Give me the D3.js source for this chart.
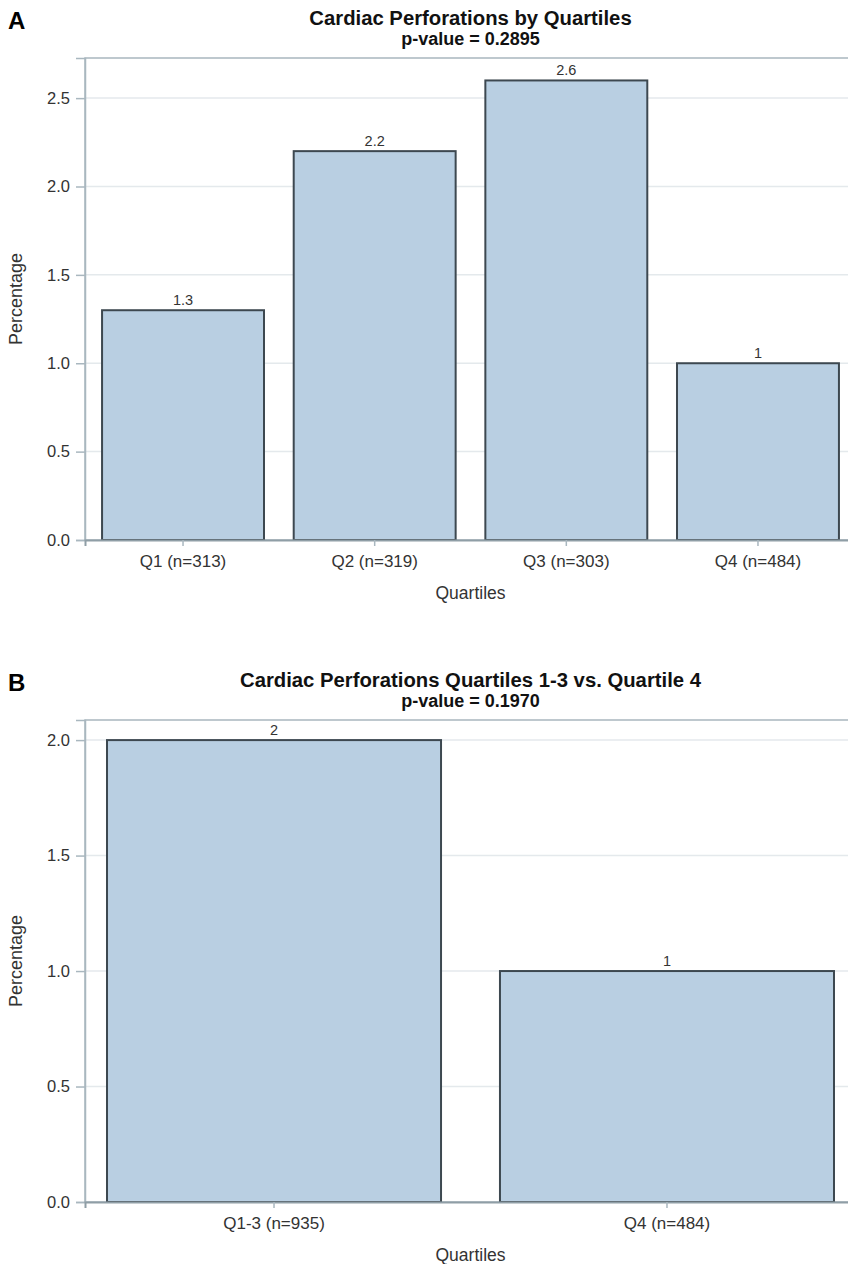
<!DOCTYPE html>
<html>
<head>
<meta charset="utf-8">
<script src="https://cdn.jsdelivr.net/npm/d3@7"></script>
<style>
  html, body { margin: 0; padding: 0; background: #fff; overflow: hidden; }
  svg { display: block; }
  text { font-family: "Liberation Sans", Arial, sans-serif; }
</style>
</head>
<body>
<svg id="chart" width="848" height="1264"></svg>
<script>
// ---- data ----
const panelLetters = ["A", "B"];
const titlesA = ["Cardiac Perforations by Quartiles", "p-value = 0.2895"];
const titlesB = ["Cardiac Perforations Quartiles 1-3 vs. Quartile 4", "p-value = 0.1970"];
const categoriesA = ["Q1 (n=313)", "Q2 (n=319)", "Q3 (n=303)", "Q4 (n=484)"];
const valuesA = [1.3, 2.2, 2.6, 1];
const categoriesB = ["Q1-3 (n=935)", "Q4 (n=484)"];
const valuesB = [2, 1];
const yTicksA = [0, 0.5, 1.0, 1.5, 2.0, 2.5];
const yTicksB = [0, 0.5, 1.0, 1.5, 2.0];
const xAxisTitle = "Quartiles";
const yAxisTitle = "Percentage";

const svg = d3.select("#chart");

function panel(cfg) {
  const g = svg.append("g");
  const {left, right, top, bottom} = cfg;

  const x = d3.scaleBand().domain(cfg.categories).range([left, right])
    .paddingInner(cfg.padIn).paddingOuter(cfg.padOut);
  const y = d3.scaleLinear().domain([0, cfg.yMax]).range([bottom, top]);

  // gridlines
  g.append("g").selectAll("line").data(cfg.yTicks.filter(t => t > 0)).join("line")
    .attr("x1", left).attr("x2", right)
    .attr("y1", d => y(d)).attr("y2", d => y(d))
    .attr("stroke", "#e4e9ec").attr("stroke-width", 1.5);

  // frame
  g.append("rect").attr("x", left).attr("y", top)
    .attr("width", right - left).attr("height", bottom - top)
    .attr("fill", "none").attr("stroke", "#a9b7bf").attr("stroke-width", 1.5);

  // bars
  g.append("g").selectAll("rect").data(cfg.values).join("rect")
    .attr("x", (d, i) => x(cfg.categories[i]))
    .attr("y", d => y(d))
    .attr("width", x.bandwidth())
    .attr("height", d => y(0) - y(d))
    .attr("fill", "#b9cfe2")
    .attr("stroke", "#3d4850").attr("stroke-width", 2);

  // value labels
  g.append("g").selectAll("text").data(cfg.values).join("text")
    .attr("x", (d, i) => x(cfg.categories[i]) + x.bandwidth() / 2)
    .attr("y", d => y(d) - 5)
    .attr("text-anchor", "middle")
    .attr("font-size", 14.5).attr("fill", "#333")
    .text(d => String(d));

  // y axis
  const yAxis = d3.axisLeft(y).tickValues(cfg.yTicks).tickFormat(d3.format(".1f"))
    .tickSize(9).tickPadding(6);
  const ya = g.append("g").attr("transform", `translate(${left},0)`).call(yAxis);
  ya.select(".domain").attr("stroke", "#a9b7bf").attr("stroke-width", 1.5);
  ya.selectAll(".tick line").attr("stroke", "#a9b7bf").attr("stroke-width", 1.5);
  ya.selectAll(".tick text").attr("font-size", 16.5).attr("fill", "#333")
    .attr("font-family", "Liberation Sans, Arial, sans-serif");

  // x axis
  const xAxis = d3.axisBottom(x).tickSize(6).tickPadding(9);
  const xa = g.append("g").attr("transform", `translate(0,${bottom})`).call(xAxis);
  xa.select(".domain").attr("stroke", "#8f9ea6").attr("stroke-width", 2);
  xa.selectAll(".tick line").attr("stroke", "#a9b7bf").attr("stroke-width", 1.5);
  xa.selectAll(".tick text").attr("font-size", 17).attr("fill", "#333")
    .attr("font-family", "Liberation Sans, Arial, sans-serif");

  const cx = (left + right) / 2;
  // axis titles
  g.append("text").attr("x", cx).attr("y", bottom + 59)
    .attr("text-anchor", "middle").attr("font-size", 17.5).attr("fill", "#333")
    .text(xAxisTitle);
  g.append("text")
    .attr("transform", `translate(22,${(top + bottom) / 2}) rotate(-90)`)
    .attr("text-anchor", "middle").attr("font-size", 18).attr("fill", "#333")
    .text(yAxisTitle);

  // titles
  g.append("text").attr("x", cx).attr("y", top - 33)
    .attr("text-anchor", "middle").attr("font-size", 20.3).attr("font-weight", "bold")
    .attr("fill", "#111").text(cfg.titles[0]);
  g.append("text").attr("x", cx).attr("y", top - 13)
    .attr("text-anchor", "middle").attr("font-size", 18).attr("font-weight", "bold")
    .attr("fill", "#111").text(cfg.titles[1]);

  // panel letter
  g.append("text").attr("x", 8).attr("y", top - 29)
    .attr("font-family", "Open Sans, sans-serif")
    .attr("font-size", 24).attr("font-weight", "bold").attr("fill", "#000")
    .text(cfg.letter);
}

panel({
  letter: panelLetters[0], titles: titlesA,
  categories: categoriesA, values: valuesA, yTicks: yTicksA,
  left: 85, right: 856, top: 58, bottom: 540, yMax: 2.727,
  padIn: 0.155, padOut: 0.089
});
panel({
  letter: panelLetters[1], titles: titlesB,
  categories: categoriesB, values: valuesB, yTicks: yTicksB,
  left: 85, right: 856, top: 720, bottom: 1202, yMax: 2.087,
  padIn: 0.15, padOut: 0.056
});
</script>
</body>
</html>
